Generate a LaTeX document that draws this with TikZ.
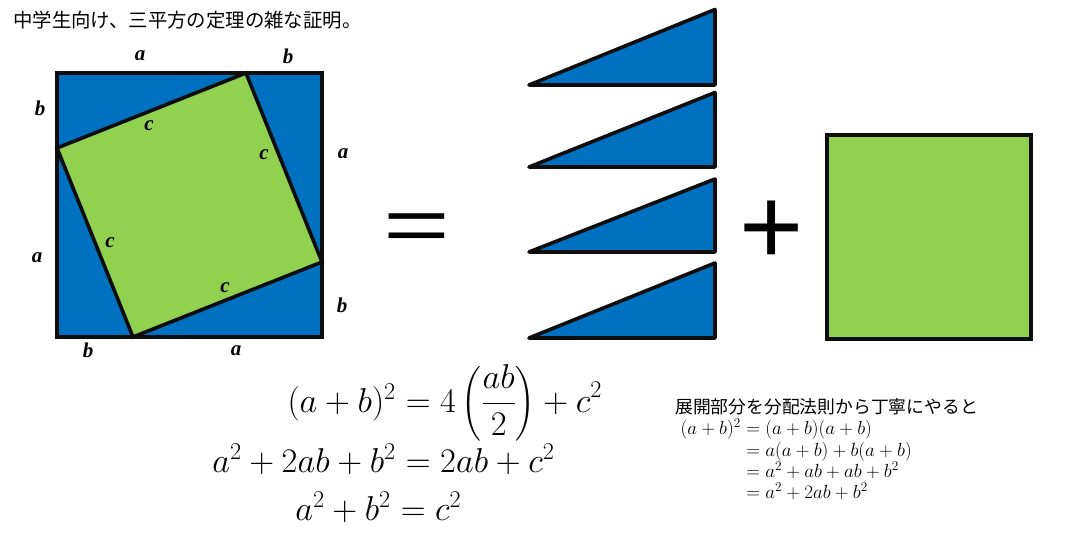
\RequirePackage{fix-cm}
\documentclass[tikz,border=0pt]{standalone}
\usepackage{fontspec}
\usepackage{amsmath}
\usepackage{graphicx}
\setmainfont{Liberation Serif}
\newfontfamily\jpfont{Noto Sans CJK JP}
\newfontfamily\symfont{Liberation Sans}
\definecolor{sqblue}{HTML}{0070C0}
\definecolor{sqgreen}{HTML}{92D050}
\begin{document}
\begin{tikzpicture}[x=1pt,y=-1pt,
  shapeline/.style={draw=black!95, line width=3.6pt},
  bluefill/.style={shapeline, fill=sqblue},
  greenfill/.style={shapeline, fill=sqgreen},
  sidelbl/.style={inner sep=0pt, font=\fontsize{21}{21}\selectfont\bfseries\itshape},
  eqbig/.style={inner sep=0pt, font=\fontsize{34.5}{40}\selectfont},
  eqsmall/.style={inner sep=0pt, font=\fontsize{19}{22}\selectfont},
  jptext/.style={inner sep=0pt, anchor=base west},
  bigsym/.style={inner sep=0pt, font=\symfont\fontsize{110}{110}\selectfont}
]
\useasboundingbox (0,0) rectangle (1069,540);

% title
\node[jptext, font=\jpfont\fontsize{19.4}{20}\selectfont] (title) at (13,28) {中学生向け、三平方の定理の雑な証明。};

% big square
\coordinate (A) at (57,73);
\coordinate (B) at (322,73);
\coordinate (C) at (322,337);
\coordinate (D) at (57,337);
\coordinate (P) at (246,73);
\coordinate (Q) at (322,262);
\coordinate (R) at (133,337);
\coordinate (S) at (57,148);
\path[bluefill] (A) -- (B) -- (C) -- (D) -- cycle;
\path[greenfill] (P) -- (Q) -- (R) -- (S) -- cycle;

% labels of the big square
\node[sidelbl] (la1) at (140,56) {a};
\node[sidelbl] (lb1) at (288,56) {b};
\node[sidelbl] (lb2) at (40,108) {b};
\node[sidelbl] (la2) at (37,258) {a};
\node[sidelbl] (la3) at (343,154) {a};
\node[sidelbl] (lb3) at (342,305) {b};
\node[sidelbl] (lb4) at (88,350) {b};
\node[sidelbl] (la4) at (236,351) {a};
\node[sidelbl] (lc1) at (149,126) {c};
\node[sidelbl] (lc2) at (264,155) {c};
\node[sidelbl] (lc3) at (110,243) {c};
\node[sidelbl] (lc4) at (225,288) {c};

% equals sign
\node[bigsym] (eqsign) at (417,233) {\scalebox{1.04}[0.7]{=}};

% four triangles
\path[bluefill, line join=round] (529,85) -- (715,85) -- (715,9.5) -- cycle;
\path[bluefill, line join=round] (529,167) -- (715,167) -- (715,92.5) -- cycle;
\path[bluefill, line join=round] (529,252) -- (715,252) -- (715,179) -- cycle;
\path[bluefill, line join=round] (529,338) -- (715,338) -- (715,263) -- cycle;

% plus sign
\node[bigsym] (plussign) at (772,233) {+};

% right square
\path[greenfill] (827,135) rectangle (1031,339);

% main equations
\node[eqbig, anchor=base east] (e1l) at (396,412) {$(a+b)^2$};
\node[eqbig, anchor=base west] (e1r) at (396,412) {$\displaystyle{}=4\left(\frac{ab}{2}\right)+c^2$};
\node[eqbig, anchor=base east] (e2l) at (396,472) {$a^2+2ab+b^2$};
\node[eqbig, anchor=base west] (e2r) at (396,472) {${}=2ab+c^2$};
\node[eqbig, anchor=base east] (e3l) at (391,520) {$a^2+b^2$};
\node[eqbig, anchor=base west] (e3r) at (391,520) {${}=c^2$};

% right-hand explanation
\node[jptext, font=\jpfont\fontsize{17.8}{20}\selectfont] (note) at (675,413) {展開部分を分配法則から丁寧にやると};
\node[eqsmall, anchor=base east] (s1l) at (741,434) {$(a+b)^2$};
\node[eqsmall, anchor=base west] (s1r) at (741,434) {${}=(a+b)(a+b)$};
\node[eqsmall, anchor=base west] (s2r) at (741,456) {${}=a(a+b)+b(a+b)$};
\node[eqsmall, anchor=base west] (s3r) at (741,477) {${}=a^2+ab+ab+b^2$};
\node[eqsmall, anchor=base west] (s4r) at (741,498) {${}=a^2+2ab+b^2$};
\end{tikzpicture}
\end{document}
